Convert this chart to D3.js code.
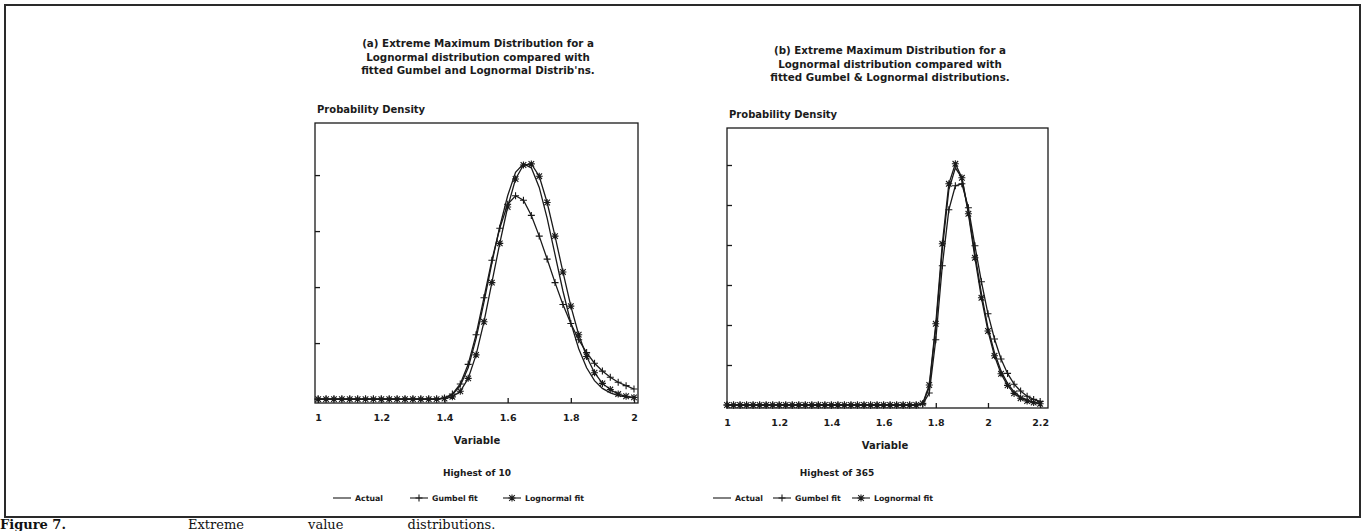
<!DOCTYPE html>
<meta charset="utf-8">
<head>
<style>
  body { margin: 0; background: #fff; }
  svg { display: block; }
  .lbl { font-family: "DejaVu Sans", "Liberation Sans", sans-serif; font-weight: bold; fill: #1b1b1b; }
  .axis text { font-family: "DejaVu Sans", "Liberation Sans", sans-serif; font-weight: bold; font-size: 9.5px; fill: #1b1b1b; }
  .axis path, .axis line { stroke: #1a1a1a; stroke-width: 1.3px; }
  .curve { fill: none; stroke: #1a1a1a; stroke-width: 1.3px; }
  .mark { fill: none; stroke: #1a1a1a; stroke-width: 1.1px; }
</style>
</head>
<body>
<svg id="fig" width="1369" height="531"></svg>
<script src="https://d3js.org/d3.v7.min.js"></script>
<script>

// ---- data: panel (a), highest of 10 ----
var xA = [1.000, 1.025, 1.050, 1.075, 1.100, 1.125, 1.150, 1.175, 1.200, 1.225,
          1.250, 1.275, 1.300, 1.325, 1.350, 1.375, 1.400, 1.425, 1.450, 1.475,
          1.500, 1.525, 1.550, 1.575, 1.600, 1.625, 1.650, 1.675, 1.700, 1.725,
          1.750, 1.775, 1.800, 1.825, 1.850, 1.875, 1.900, 1.925, 1.950, 1.975, 2.000];
var actualA = [0, 0, 0, 0, 0, 0, 0, 0, 0, 0, 0, 0, 0, 0, 0, 0,
          0.02, 0.08, 0.24, 0.56, 1.08, 1.73, 2.43, 3.08, 3.63, 4.05, 4.20, 4.13,
          3.78, 3.23, 2.58, 1.93, 1.36, 0.90, 0.56, 0.33, 0.19, 0.11, 0.06, 0.04, 0.02];
var gumbelA = [0, 0, 0, 0, 0, 0, 0, 0, 0, 0, 0, 0, 0, 0, 0, 0,
          0.02, 0.09, 0.27, 0.62, 1.15, 1.81, 2.48, 3.05, 3.48, 3.63, 3.55, 3.28,
          2.91, 2.50, 2.08, 1.69, 1.35, 1.06, 0.83, 0.64, 0.50, 0.39, 0.30, 0.24, 0.18];
var lognormA = [0, 0, 0, 0, 0, 0, 0, 0, 0, 0, 0, 0, 0, 0, 0, 0,
          0.01, 0.04, 0.14, 0.37, 0.79, 1.38, 2.08, 2.78, 3.43, 3.93, 4.18, 4.20,
          3.98, 3.51, 2.91, 2.27, 1.66, 1.15, 0.76, 0.47, 0.28, 0.17, 0.09, 0.05, 0.03];
var ticksA = [1, 1.2, 1.4, 1.6, 1.8, 2];

// ---- data: panel (b), highest of 365 ----
var xB = [1.000, 1.025, 1.050, 1.075, 1.100, 1.125, 1.150, 1.175, 1.200, 1.225,
          1.250, 1.275, 1.300, 1.325, 1.350, 1.375, 1.400, 1.425, 1.450, 1.475,
          1.500, 1.525, 1.550, 1.575, 1.600, 1.625, 1.650, 1.675, 1.700, 1.725,
          1.750, 1.775, 1.800, 1.825, 1.850, 1.875, 1.900, 1.925, 1.950, 1.975,
          2.000, 2.025, 2.050, 2.075, 2.100, 2.125, 2.150, 2.175, 2.200];
var actualB = [0, 0, 0, 0, 0, 0, 0, 0, 0, 0, 0, 0, 0, 0, 0, 0, 0, 0, 0, 0,
          0, 0, 0, 0, 0, 0, 0, 0, 0, 0,
          0.03, 0.45, 1.93, 3.88, 5.38, 5.93, 5.68, 4.83, 3.78, 2.78,
          1.93, 1.31, 0.85, 0.54, 0.33, 0.20, 0.12, 0.07, 0.04];
var gumbelB = [0, 0, 0, 0, 0, 0, 0, 0, 0, 0, 0, 0, 0, 0, 0, 0, 0, 0, 0, 0,
          0, 0, 0, 0, 0, 0, 0, 0, 0, 0,
          0.02, 0.30, 1.63, 3.48, 4.88, 5.48, 5.53, 4.93, 3.98, 3.08,
          2.28, 1.65, 1.15, 0.79, 0.52, 0.35, 0.22, 0.14, 0.09];
var lognormB = [0, 0, 0, 0, 0, 0, 0, 0, 0, 0, 0, 0, 0, 0, 0, 0, 0, 0, 0, 0,
          0, 0, 0, 0, 0, 0, 0, 0, 0, 0,
          0.04, 0.50, 2.03, 4.03, 5.53, 6.03, 5.68, 4.78, 3.68, 2.68,
          1.85, 1.23, 0.78, 0.49, 0.29, 0.17, 0.10, 0.06, 0.03];
var ticksB = [1, 1.2, 1.4, 1.6, 1.8, 2, 2.2];

var svg = d3.select("#fig");

// page frame (scanned figure box)
svg.append("rect")
    .attr("x", 5).attr("y", 5)
    .attr("width", 1355).attr("height", 512)
    .attr("fill", "none").attr("stroke", "#2a2a2a").attr("stroke-width", 2);

// caption under the frame (cut by the bottom of the scan)
svg.append("text")
    .attr("x", 0).attr("y", 529)
    .style("font-family", "'DejaVu Serif', serif").style("font-weight", "bold")
    .style("font-size", "13px").style("fill", "#111")
    .text("Figure 7.");
svg.append("text")
    .attr("x", 188).attr("y", 529)
    .style("font-family", "'DejaVu Serif', serif")
    .style("font-size", "13px").style("fill", "#111")
    .style("word-spacing", "60px")
    .text("Extreme value distributions.");

var plus = "M-3.5,0H3.5M0,-3.5V3.5";
var star = "M-3.5,0H3.5M0,-3.5V3.5M-2.8,-2.8L2.8,2.8M-2.8,2.8L2.8,-2.8";

function panel(p) {
  var x = d3.scaleLinear().domain(p.xDom).range([p.left, p.right]);
  var y = d3.scaleLinear().domain(p.yDom).range([p.bottom, p.top]);
  var g = svg.append("g");

  // titles
  p.title.forEach(function(t, i) {
    g.append("text").attr("class", "lbl")
        .attr("x", p.titleX).attr("y", p.titleY + i * 13.5)
        .attr("text-anchor", "middle").style("font-size", "10.3px")
        .text(t);
  });
  g.append("text").attr("class", "lbl")
      .attr("x", p.left + 2).attr("y", p.top - 10)
      .style("font-size", "10px")
      .text("Probability Density");

  // box
  g.append("rect")
      .attr("x", p.left).attr("y", p.top)
      .attr("width", p.right - p.left).attr("height", p.bottom - p.top)
      .attr("fill", "none").attr("stroke", "#1a1a1a").attr("stroke-width", 1.3);

  // axes with inward ticks
  var xa = g.append("g").attr("class", "axis")
      .attr("transform", "translate(0," + p.bottom + ")")
      .call(d3.axisBottom(x).tickValues(p.ticks).tickSizeInner(-5).tickSizeOuter(0)
            .tickPadding(11).tickFormat(d3.format("")));
  xa.select(".domain").remove();
  var ya = g.append("g").attr("class", "axis")
      .attr("transform", "translate(" + p.left + ",0)")
      .call(d3.axisLeft(y).tickValues(p.yTicks).tickSizeInner(-5).tickSizeOuter(0)
            .tickFormat(""));
  ya.select(".domain").remove();

  g.append("text").attr("class", "lbl")
      .attr("x", p.varX).attr("y", p.bottom + 41)
      .attr("text-anchor", "middle").style("font-size", "10px")
      .text("Variable");

  // curves
  var line = d3.line().x(function(d) { return x(d[0]); }).y(function(d) { return y(d[1]); });
  p.series.forEach(function(s) {
    var pts = p.xs.map(function(v, i) { return [v, s.values[i]]; });
    g.append("path").attr("class", "curve").attr("d", line(pts));
    if (s.marker) {
      g.selectAll(null).data(pts).enter().append("path")
          .attr("class", "mark")
          .attr("transform", function(d) { return "translate(" + x(d[0]) + "," + y(d[1]) + ")"; })
          .attr("d", s.marker);
    }
  });

  // legend
  g.append("text").attr("class", "lbl")
      .attr("x", p.legX).attr("y", 476)
      .attr("text-anchor", "middle").style("font-size", "9px")
      .text(p.legTitle);
  p.series.forEach(function(s, i) {
    var lx = p.legItems[i];
    g.append("line").attr("x1", lx).attr("x2", lx + 18).attr("y1", 498).attr("y2", 498)
        .attr("stroke", "#1a1a1a").attr("stroke-width", 1.1);
    if (s.marker) {
      g.append("path").attr("class", "mark")
          .attr("transform", "translate(" + (lx + 9) + ",498)").attr("d", s.marker);
    }
    g.append("text").attr("class", "lbl")
        .attr("x", lx + 22).attr("y", 501).style("font-size", "7.8px")
        .text(s.name);
  });
}

panel({
  xs: xA, xDom: [0.99, 2.0127], left: 315, right: 638,
  yDom: [-0.07, 4.93], yTicks: [1, 2, 3, 4], top: 123, bottom: 403,
  ticks: ticksA,
  title: ["(a) Extreme Maximum Distribution for a",
          "Lognormal distribution compared with",
          "fitted Gumbel and Lognormal Distrib'ns."],
  titleX: 478, titleY: 47, varX: 477,
  legTitle: "Highest of 10", legX: 477, legItems: [333, 410, 503],
  series: [
    {name: "Actual", values: actualA, marker: null},
    {name: "Gumbel fit", values: gumbelA, marker: plus},
    {name: "Lognormal fit", values: lognormA, marker: star}
  ]
});

panel({
  xs: xB, xDom: [1, 2.23], left: 727, right: 1048,
  yDom: [-0.075, 6.925], yTicks: [1, 2, 3, 4, 5, 6], top: 128, bottom: 408,
  ticks: ticksB,
  title: ["(b) Extreme Maximum Distribution for a",
          "Lognormal distribution compared with",
          "fitted Gumbel & Lognormal distributions."],
  titleX: 890, titleY: 54, varX: 885,
  legTitle: "Highest of 365", legX: 837, legItems: [713, 773, 852],
  series: [
    {name: "Actual", values: actualB, marker: null},
    {name: "Gumbel fit", values: gumbelB, marker: plus},
    {name: "Lognormal fit", values: lognormB, marker: star}
  ]
});

</script>
</body>
